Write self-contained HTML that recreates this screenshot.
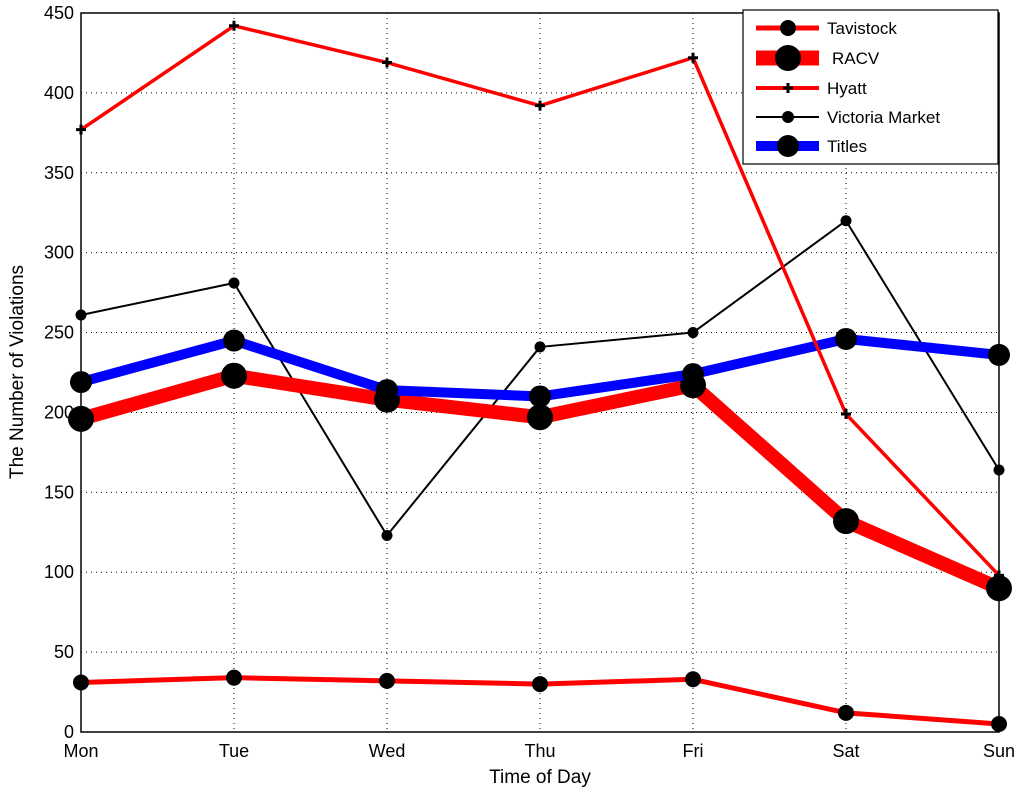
<!DOCTYPE html>
<html><head><meta charset="utf-8"><style>
body{margin:0;background:#fff;}
svg text{font-family:"Liberation Sans",sans-serif;}
</style></head><body>
<svg width="1024" height="797" viewBox="0 0 1024 797">
<g id="grid"></g>
<g id="series"></g>
<rect x="81" y="13" width="918" height="719" fill="none" stroke="#000" stroke-width="1.5"/>
<g id="ticks"></g>
<text x="540" y="783" font-size="19" text-anchor="middle">Time of Day</text>
<text transform="translate(23,372) rotate(-90)" font-size="19" text-anchor="middle">The Number of Violations</text>
<g>
<rect x="743" y="10" width="255" height="154" fill="#fff" stroke="#000" stroke-width="1.2"/>
<g><line x1="756" y1="28" x2="819" y2="28" stroke="#f00" stroke-width="5"/><circle cx="788" cy="28" r="8"/><text x="827" y="34" font-size="17">Tavistock</text></g>
<g><line x1="756" y1="58" x2="819" y2="58" stroke="#f00" stroke-width="15"/><circle cx="788" cy="58" r="13"/><text x="832" y="64" font-size="17">RACV</text></g>
<g><line x1="756" y1="88" x2="819" y2="88" stroke="#f00" stroke-width="4"/><path d="M783 88h10M788 83v10" stroke="#000" stroke-width="3"/><text x="827" y="94" font-size="17">Hyatt</text></g>
<g><line x1="756" y1="117" x2="819" y2="117" stroke="#000" stroke-width="2"/><circle cx="788" cy="117" r="6"/><text x="827" y="123" font-size="17">Victoria Market</text></g>
<g><line x1="756" y1="146" x2="819" y2="146" stroke="#00f" stroke-width="10"/><circle cx="788" cy="146" r="11"/><text x="827" y="152" font-size="17">Titles</text></g>
</g>
</svg>
<script>
const days=["Mon","Tue","Wed","Thu","Fri","Sat","Sun"];
const yTicks=[0,50,100,150,200,250,300,350,400,450];
const tavistock=[31,34,32,30,33,12,5];
const racv=[196,223,208,197,217,132,90];
const hyatt=[377,442,419,392,422,199,98];
const victoria=[261,281,123,241,250,320,164];
const titles=[219,245,214,210,224,246,236];
const NS="http://www.w3.org/2000/svg";
const L=81,R=999,T=13,B=732;
const xs=i=>L+i*(R-L)/(days.length-1);
const ys=v=>B-v*(B-T)/450;
function mk(tag,attrs,parent){const e=document.createElementNS(NS,tag);for(const k in attrs)e.setAttribute(k,attrs[k]);parent.appendChild(e);return e;}
const grid=document.getElementById('grid'),ticks=document.getElementById('ticks'),ser=document.getElementById('series');
days.forEach((d,i)=>{
 const x=xs(i);
 if(i>0&&i<days.length-1){const g=mk('line',{x1:x,x2:x,y1:T,y2:B,stroke:'#000','stroke-width':1,'stroke-dasharray':'1,4'},grid);
 
 }
 const t=mk('text',{x:x,y:757,'font-size':18,'text-anchor':'middle'},ticks);t.textContent=d;
 
 
});
yTicks.forEach(v=>{
 const y=ys(v);
 if(v>0&&v<450){const g=mk('line',{x1:L,x2:R,y1:y,y2:y,stroke:'#000','stroke-width':1,'stroke-dasharray':'1,4'},grid);
 
 }
 const t=mk('text',{x:74,y:y+6,'font-size':18,'text-anchor':'end'},ticks);t.textContent=v;
 
 
});
function series(name,vals,color,w,marker,r){
 const g=mk('g',{},ser);
 
 
 const pl=mk('polyline',{points:vals.map((v,i)=>xs(i)+','+ys(v)).join(' '),fill:'none',stroke:color,'stroke-width':w,'stroke-linejoin':'round'},g);
 
 
 vals.forEach((v,i)=>{
  let m;
  if(marker==='plus'){m=mk('path',{d:`M${xs(i)-5} ${ys(v)}h10M${xs(i)} ${ys(v)-5}v10`,stroke:'#000','stroke-width':3},g);}
  else m=mk('circle',{cx:xs(i),cy:ys(v),r:r,fill:'#000'},g);
  
  
 });
}
series('victoria-market',victoria,'#000',2,'dot',5.5);
series('racv',racv,'#f00',14,'dot',13);
series('titles',titles,'#00f',10,'dot',11);
series('hyatt',hyatt,'#f00',3.5,'plus',0);
series('tavistock',tavistock,'#f00',5,'dot',8);
</script>
</body></html>
